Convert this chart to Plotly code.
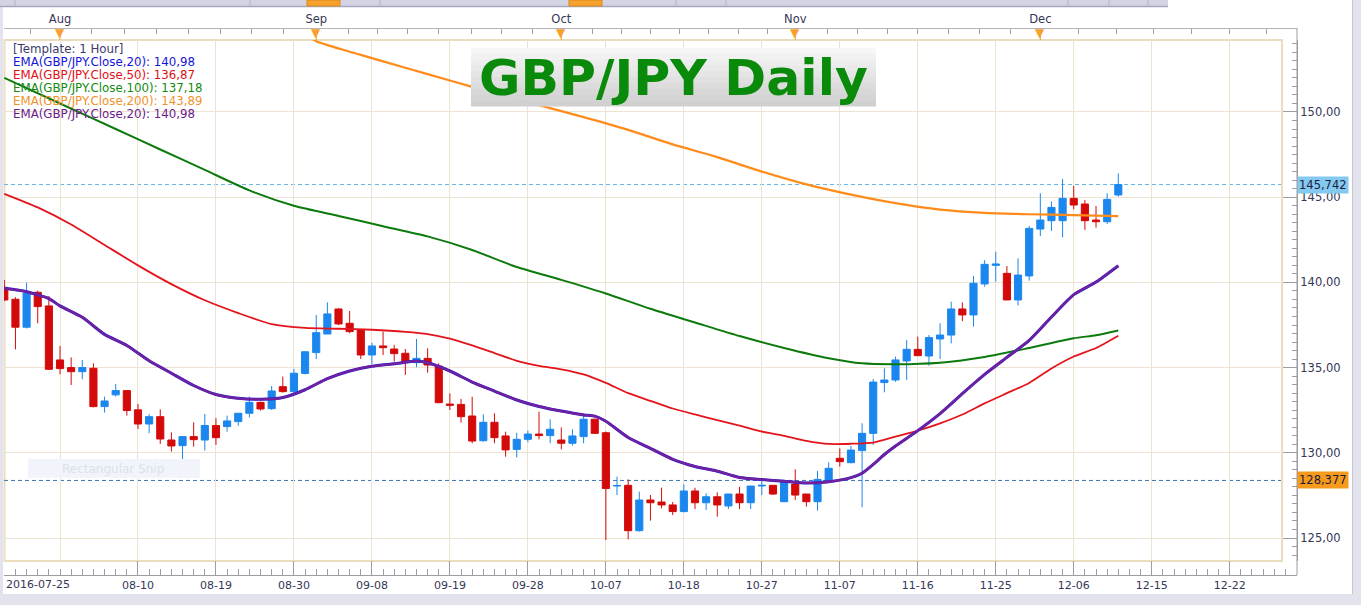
import pandas as pd
import plotly.graph_objects as go

# ---------------- data ----------------
dates = pd.bdate_range("2016-07-25", "2016-12-12")  # 101 trading days

opens = [139.71, 139.01, 137.37, 139.42, 138.62, 135.45, 135.00, 134.76, 134.96, 132.71,
         133.40, 133.65, 132.52, 131.69, 132.12, 130.75, 130.42, 130.95, 130.75, 131.60,
         131.54, 131.83, 132.32, 132.96, 132.59, 133.88, 133.59, 134.66, 135.88, 136.97,
         138.44, 137.60, 137.21, 135.74, 136.27, 136.09, 135.84, 135.29, 135.54, 135.09,
         132.86, 132.84, 132.16, 130.71, 131.79, 130.99, 130.20, 130.79, 131.10, 131.01,
         130.75, 130.56, 130.95, 131.97, 131.18, 128.05, 128.09, 125.43, 127.23, 127.11,
         126.94, 126.55, 127.76, 127.07, 127.42, 126.88, 127.58, 127.07, 128.05, 128.09,
         127.13, 128.17, 127.58, 127.13, 128.35, 129.68, 129.42, 130.13, 131.14, 134.12,
         134.27, 135.39, 136.07, 135.68, 136.68, 136.91, 138.44, 138.09, 139.91, 141.00,
         140.53, 138.97, 140.38, 143.13, 143.62, 143.62, 144.93, 144.60, 143.66, 143.56,
         145.13]
highs = [140.14, 139.13, 139.99, 139.52, 139.20, 136.27, 135.60, 135.45, 135.25, 133.30,
         134.04, 133.69, 132.87, 132.26, 132.55, 131.20, 130.95, 131.79, 132.28, 132.03,
         132.18, 132.32, 133.30, 133.00, 133.92, 134.47, 134.92, 135.95, 138.09, 138.83,
         138.48, 138.32, 137.21, 136.46, 137.11, 136.33, 136.09, 136.68, 136.13, 135.25,
         133.49, 133.16, 133.29, 132.26, 132.32, 131.24, 131.18, 131.30, 132.41, 131.96,
         131.49, 131.38, 132.32, 132.00, 131.25, 128.60, 128.44, 127.72, 127.52, 127.95,
         127.11, 128.15, 127.95, 127.62, 127.68, 127.58, 128.01, 128.05, 128.50, 128.09,
         128.40, 129.03, 127.58, 128.93, 129.44, 130.26, 130.40, 131.73, 134.33, 134.96,
         135.64, 136.62, 136.82, 136.91, 137.60, 138.87, 138.83, 140.38, 141.31, 141.80,
         140.96, 141.41, 143.31, 145.23, 144.74, 146.07, 145.66, 144.84, 144.48, 145.23,
         146.40]
lows = [138.90, 136.07, 137.30, 137.60, 134.85, 134.61, 133.98, 134.31, 132.67, 132.36,
        133.30, 132.18, 131.40, 131.15, 130.52, 130.07, 129.19, 130.36, 130.13, 130.46,
        131.24, 131.58, 132.08, 132.48, 132.51, 133.53, 133.53, 134.60, 135.50, 136.97,
        137.50, 137.01, 135.50, 135.21, 135.74, 135.35, 134.57, 135.02, 134.70, 132.94,
        132.51, 131.77, 130.56, 130.65, 130.56, 129.77, 129.73, 130.62, 130.79, 130.56,
        130.20, 130.42, 130.56, 131.10, 124.88, 127.52, 124.92, 125.37, 126.02, 126.74,
        126.35, 126.50, 126.70, 126.64, 126.25, 126.70, 126.70, 126.70, 127.52, 127.52,
        127.10, 127.23, 126.84, 126.60, 128.30, 129.19, 129.38, 126.80, 130.46, 133.55,
        134.17, 134.27, 135.70, 135.11, 135.50, 136.42, 137.73, 137.40, 139.75, 140.04,
        138.97, 138.64, 140.10, 142.72, 143.02, 142.64, 144.29, 143.08, 143.21, 143.43,
        145.03]
closes = [138.97, 137.37, 139.36, 138.58, 134.90, 134.94, 134.76, 135.00, 132.71, 133.04,
          133.65, 132.48, 131.69, 132.12, 130.81, 130.40, 130.95, 130.77, 131.60, 130.89,
          131.87, 132.32, 132.96, 132.57, 133.63, 133.59, 134.67, 135.93, 137.05, 138.15,
          137.56, 137.11, 135.74, 136.27, 136.17, 135.82, 135.31, 135.54, 135.15, 132.94,
          132.79, 132.12, 130.69, 131.79, 130.89, 130.17, 130.79, 131.10, 131.01, 131.38,
          130.56, 130.99, 131.97, 131.14, 127.91, 128.08, 125.43, 127.23, 127.07, 126.94,
          126.55, 127.76, 127.07, 127.42, 126.94, 127.58, 127.07, 128.05, 128.09, 127.58,
          128.35, 127.52, 127.13, 128.44, 129.09, 129.48, 130.16, 131.14, 134.15, 134.27,
          135.45, 136.07, 135.70, 136.76, 136.91, 138.44, 138.09, 139.95, 141.06, 141.08,
          138.97, 140.43, 143.17, 143.66, 144.40, 144.93, 144.54, 143.62, 143.56, 144.87,
          145.742]

ema20_dates = ["2016-07-25", "2016-07-27", "2016-07-29", "2016-08-01", "2016-08-03", "2016-08-05",
               "2016-08-09", "2016-08-11", "2016-08-15", "2016-08-17", "2016-08-19", "2016-08-23",
               "2016-08-25", "2016-08-29", "2016-08-31", "2016-09-02", "2016-09-06", "2016-09-08",
               "2016-09-12", "2016-09-14", "2016-09-15", "2016-09-19", "2016-09-21", "2016-09-23",
               "2016-09-27", "2016-09-29", "2016-10-03", "2016-10-05", "2016-10-06", "2016-10-07",
               "2016-10-11", "2016-10-13", "2016-10-17", "2016-10-19", "2016-10-21", "2016-10-25",
               "2016-10-27", "2016-10-31", "2016-11-02", "2016-11-04", "2016-11-08", "2016-11-09",
               "2016-11-10", "2016-11-11", "2016-11-14", "2016-11-16", "2016-11-18", "2016-11-22",
               "2016-11-24", "2016-11-28", "2016-11-30", "2016-12-02", "2016-12-06", "2016-12-08",
               "2016-12-12"]
ema20 = [139.65, 139.45, 139.05, 138.62, 137.95, 136.95, 136.30, 135.40, 134.67, 133.95,
         133.42, 133.20, 133.14, 133.24, 133.70, 134.35, 134.80, 135.08, 135.22, 135.38,
         135.28, 134.80, 134.15, 133.62, 133.10, 132.72, 132.45, 132.22, 132.15, 131.85,
         130.90, 130.26, 129.62, 129.20, 128.92, 128.55, 128.43, 128.33, 128.23, 128.30,
         128.54, 128.80, 129.32, 129.90, 130.40, 131.30, 132.30, 133.47, 134.60, 135.60,
         136.60, 137.97, 139.28, 140.02, 140.98]

ema50_dates = ["2016-07-25", "2016-07-28", "2016-08-02", "2016-08-05", "2016-08-10", "2016-08-15",
               "2016-08-18", "2016-08-23", "2016-08-26", "2016-08-31", "2016-09-05", "2016-09-08",
               "2016-09-13", "2016-09-15", "2016-09-19", "2016-09-21", "2016-09-23", "2016-09-27",
               "2016-09-29", "2016-10-03", "2016-10-05", "2016-10-07", "2016-10-11", "2016-10-13",
               "2016-10-17", "2016-10-19", "2016-10-21", "2016-10-25", "2016-10-27", "2016-10-31",
               "2016-11-02", "2016-11-04", "2016-11-08", "2016-11-10", "2016-11-14", "2016-11-16",
               "2016-11-18", "2016-11-22", "2016-11-24", "2016-11-28", "2016-11-30", "2016-12-02",
               "2016-12-06", "2016-12-08", "2016-12-12"]
ema50 = [145.20, 144.40, 143.40, 142.20, 141.00, 139.90, 138.95, 138.20, 137.55, 137.33,
         137.28, 137.22, 137.10, 136.97, 136.70, 136.30, 135.85, 135.40, 135.10, 134.90,
         134.60, 134.10, 133.50, 133.05, 132.60, 132.25, 131.92, 131.60, 131.25, 131.00,
         130.70, 130.52, 130.53, 130.60, 130.95, 131.30, 131.73, 132.25, 132.90, 133.50,
         134.10, 134.95, 135.65, 136.15, 136.87]

ema100_dates = ["2016-07-25", "2016-08-01", "2016-08-08", "2016-08-12", "2016-08-18", "2016-08-24",
                "2016-08-30", "2016-09-05", "2016-09-09", "2016-09-15", "2016-09-21", "2016-09-27",
                "2016-10-03", "2016-10-07", "2016-10-13", "2016-10-19", "2016-10-25", "2016-10-31",
                "2016-11-04", "2016-11-09", "2016-11-14", "2016-11-18", "2016-11-24", "2016-11-30",
                "2016-12-06", "2016-12-08", "2016-12-12"]
ema100 = [152.00, 150.50, 149.00, 147.80, 146.60, 145.40, 144.50, 143.90, 143.30, 142.70,
          141.90, 140.90, 140.15, 139.35, 138.45, 137.65, 136.85, 136.15, 135.55, 135.25,
          135.20, 135.29, 135.62, 136.15, 136.72, 136.90, 137.18]

ema200_dates = ["2016-08-31", "2016-09-01", "2016-09-07", "2016-09-13", "2016-09-19", "2016-09-23",
                "2016-09-29", "2016-10-05", "2016-10-11", "2016-10-17", "2016-10-21", "2016-10-27",
                "2016-11-02", "2016-11-08", "2016-11-14", "2016-11-18", "2016-11-24", "2016-11-30",
                "2016-12-06", "2016-12-12"]
ema200 = [154.60, 154.15, 153.35, 152.60, 151.85, 151.10, 150.40, 149.70, 148.95, 148.10,
          147.35, 146.50, 145.75, 145.15, 144.65, 144.27, 144.08, 144.00, 143.95, 143.89]

last_price = 145.742
level_price = 128.377

legend_text = ["[Template: 1 Hour]",
               "EMA(GBP/JPY.Close,20): 140,98",
               "EMA(GBP/JPY.Close,50): 136,87",
               "EMA(GBP/JPY.Close,100): 137,18",
               "EMA(GBP/JPY.Close,200): 143,89",
               "EMA(GBP/JPY.Close,20): 140,98"]
legend_colors = ["#3c3c6a", "#1414d8", "#e01018", "#128a12", "#f0922a", "#6a1a8a"]

tick_dates = ["2016-08-01", "2016-08-10", "2016-08-19", "2016-08-30", "2016-09-08", "2016-09-19",
              "2016-09-28", "2016-10-07", "2016-10-18", "2016-10-27", "2016-11-07", "2016-11-16",
              "2016-11-25", "2016-12-06", "2016-12-15", "2016-12-22"]
tick_text = ["", "08-10", "08-19", "08-30", "09-08", "09-19", "09-28", "10-07", "10-18",
             "10-27", "11-07", "11-16", "11-25", "12-06", "12-15", "12-22"]
first_label = "2016-07-25"
month_dates = ["2016-08-01", "2016-09-01", "2016-10-03", "2016-11-01", "2016-12-01"]
month_text = ["Aug", "Sep", "Oct", "Nov", "Dec"]
y_ticks = [125, 130, 135, 140, 145, 150]
title_text = "GBP/JPY Daily"

# ---------------- geometry helpers ----------------
W, H = 1361, 605
ML, MR, MT, MB = 4, 64, 28, 30
PW, PH = W - ML - MR, H - MT - MB


def fx(px):
    return (px - ML) / PW


def fy(py):
    return (H - MB - py) / PH


def noon(d):
    return pd.Timestamp(d) + pd.Timedelta(hours=12)


xs = dates + pd.Timedelta(hours=12)
slots = list(xs) + [xs[-1] + pd.Timedelta(days=k) for k in range(1, 17)]


def at(f):
    i = int(round(f))
    return slots[i] + pd.Timedelta(days=f - i)


top_minor_idx = [2.37, 7.85, 10.8, 13.7, 16.5, 19.4, 22.2, 25.1, 30.9, 33.5, 36.2, 39.0, 41.9,
                 44.6, 47.4, 52.8, 55.4, 58.0, 60.6, 63.2, 65.9, 68.5, 73.9, 76.6, 79.3, 82.0,
                 84.8, 87.5, 90.3, 96.4, 99.8, 103.2, 106.6, 110.0, 113.3]

weekend = [d.strftime("%Y-%m-%d") for d in pd.date_range("2016-07-23", "2016-12-11") if d.weekday() >= 5]
rbreaks = [dict(values=weekend, dvalue=86400000)]
x_range = ["2016-07-25 11:21", "2016-12-28 12:58"]
y_range = [123.65, 154.225]

BLUE_C = "#1b87ee"
RED_C = "#d40a0a"
GRID = "#eee3d1"
TXT = "#363658"
AXC = "#9c9ca4"
TRI = "#f6a12e"

fig = go.Figure()

fig.add_trace(go.Candlestick(
    x=xs, open=opens, high=highs, low=lows, close=closes,
    increasing=dict(line=dict(color=BLUE_C, width=1), fillcolor=BLUE_C),
    decreasing=dict(line=dict(color=RED_C, width=1), fillcolor=RED_C),
    whiskerwidth=0, showlegend=False, hoverinfo="skip"))


def ema_trace(d, v, color, width):
    return go.Scatter(x=[noon(s) for s in d], y=v, mode="lines",
                      line=dict(color=color, width=width, shape="spline", smoothing=0.6),
                      showlegend=False, hoverinfo="skip")


fig.add_trace(ema_trace(ema200_dates, ema200, "#ff8c1a", 2.2))
fig.add_trace(ema_trace(ema100_dates, ema100, "#0c7a0c", 2.0))
fig.add_trace(ema_trace(ema50_dates, ema50, "#e3141c", 1.8))
fig.add_trace(ema_trace(ema20_dates, ema20, "#2020d8", 3.0))
fig.add_trace(ema_trace(ema20_dates, ema20, "#74209c", 2.3))

# carrier trace for the top (month) axis
fig.add_trace(go.Scatter(
    x=[noon(d) for d in month_dates], y=[140] * len(month_dates), xaxis="x2", yaxis="y",
    mode="markers", marker=dict(size=1, opacity=0), showlegend=False, hoverinfo="skip"))

shapes = []
# white chart panel
shapes.append(dict(type="rect", xref="paper", yref="paper", x0=fx(3), x1=fx(1352), y0=fy(594), y1=fy(0),
                   fillcolor="white", line=dict(width=0), layer="below"))
# right border line
shapes.append(dict(type="line", xref="paper", yref="paper", x0=fx(1352.5), x1=fx(1352.5), y0=fy(594), y1=fy(0),
                   line=dict(color="#c6c6d6", width=1), layer="below"))
# toolbar
shapes.append(dict(type="rect", xref="paper", yref="paper", x0=fx(0), x1=fx(1168), y0=fy(6.5), y1=fy(0),
                   fillcolor="#d3d3e3", line=dict(width=0), layer="above"))
shapes.append(dict(type="line", xref="paper", yref="paper", x0=fx(0), x1=fx(1168), y0=fy(6.5), y1=fy(6.5),
                   line=dict(color="#a6a6c4", width=1.5), layer="above"))
for a, b in [(307, 340), (569, 602)]:
    shapes.append(dict(type="rect", xref="paper", yref="paper", x0=fx(a), x1=fx(b), y0=fy(6), y1=fy(0),
                       fillcolor="#f7a22c", line=dict(color="#d98a1a", width=1), layer="above"))
for xv in [15, 250, 380, 676, 726, 1068, 1109, 1148]:
    shapes.append(dict(type="line", xref="paper", yref="paper", x0=fx(xv), x1=fx(xv), y0=fy(6), y1=fy(0),
                       line=dict(color="#b4b4cc", width=1), layer="above"))
# price panel frame
shapes.append(dict(type="rect", xref="paper", yref="paper", x0=fx(4.5), x1=fx(1282), y0=fy(561), y1=fy(40),
                   line=dict(color="#e9dcbf", width=2), layer="below"))
# right axis line extension
shapes.append(dict(type="line", xref="paper", yref="paper", x0=1, x1=1, y0=0, y1=1,
                   line=dict(color=AXC, width=1), layer="above"))
# month marker stems
for d in month_dates:
    shapes.append(dict(type="line", xref="x", yref="paper", x0=noon(d), x1=noon(d), y0=fy(40), y1=fy(34),
                       line=dict(color=TRI, width=1), layer="above"))
# horizontal price lines
shapes.append(dict(type="line", xref="paper", yref="y", x0=0, x1=fx(1281), y0=last_price, y1=last_price,
                   line=dict(color="#62b4e4", width=1, dash="4px,3px"), layer="between"))
shapes.append(dict(type="line", xref="paper", yref="y", x0=0, x1=fx(1281), y0=level_price, y1=level_price,
                   line=dict(color="#3a74b4", width=1, dash="4px,3px"), layer="between"))
# rectangular snip artefact
shapes.append(dict(type="rect", xref="paper", yref="paper", x0=fx(28), x1=fx(200), y0=fy(478), y1=fy(459),
                   fillcolor="#f1f4fa", line=dict(width=0), layer="above"))
# title box gradient
top_c, bot_c = (246, 246, 246), (208, 208, 208)
n = 10
for k in range(n):
    t = k / (n - 1)
    c = tuple(int(top_c[j] + (bot_c[j] - top_c[j]) * t) for j in range(3))
    y0 = 48 + k * (58 / n)
    shapes.append(dict(type="rect", xref="paper", yref="paper", x0=fx(471), x1=fx(876),
                       y0=fy(y0 + 58 / n + 0.5), y1=fy(y0), fillcolor="rgb(%d,%d,%d)" % c,
                       line=dict(width=0), layer="above"))

annotations = []
for k, (t, c) in enumerate(zip(legend_text, legend_colors)):
    annotations.append(dict(xref="paper", yref="paper", x=fx(11), y=fy(49 + 13 * k), xanchor="left",
                            yanchor="middle", text=t, showarrow=False,
                            font=dict(family="DejaVu Sans", size=11.8, color=c)))
annotations.append(dict(xref="paper", yref="paper", x=fx(673), y=fy(78), xanchor="center", yanchor="middle",
                        text="<b>%s</b>" % title_text, showarrow=False,
                        font=dict(family="DejaVu Sans", size=50.5, color="#0a8a0a")))
annotations.append(dict(xref="paper", yref="paper", x=fx(4), y=fy(584), xanchor="left", yanchor="middle",
                        text=first_label, showarrow=False, font=dict(family="DejaVu Sans", size=11, color=TXT)))
annotations.append(dict(xref="paper", yref="paper", x=fx(60), y=fy(468.5), xanchor="left", yanchor="middle",
                        text="Rectangular Snip", showarrow=False,
                        font=dict(family="DejaVu Sans", size=12, color="#dce1ea")))
for val, bg in [(last_price, "#84c9f0"), (level_price, "#f59a1c")]:
    annotations.append(dict(xref="paper", yref="y", x=fx(1297), y=val, xanchor="left", yanchor="middle",
                            text=("%.3f" % val).replace(".", ","), showarrow=False, bgcolor=bg,
                            borderpad=1, font=dict(family="DejaVu Sans", size=11.5, color="#1c1c3c")))
# month triangles
for d in month_dates:
    annotations.append(dict(xref="x", yref="paper", x=noon(d), y=fy(32.5), xanchor="center", yanchor="middle",
                            text="▼", showarrow=False,
                            font=dict(family="DejaVu Sans", size=12, color=TRI)))

fig.update_layout(
    width=W, height=H, margin=dict(l=ML, r=MR, t=MT, b=MB, autoexpand=False),
    paper_bgcolor="#e3e3ee", plot_bgcolor="white", separators=", ",
    showlegend=False, boxgap=0.2, boxgroupgap=0.2,
    font=dict(family="DejaVu Sans", color=TXT),
    xaxis=dict(type="date", range=x_range, rangebreaks=rbreaks, anchor="free", position=0, domain=[0, 1],
               automargin=False,
               tickmode="array", tickvals=[noon(d) for d in tick_dates], ticktext=tick_text,
               ticks="inside", ticklen=14, tickcolor=AXC, showline=True, linecolor=AXC,
               showgrid=True, gridcolor=GRID, gridwidth=1, zeroline=False,
               tickfont=dict(family="DejaVu Sans", size=11, color=TXT),
               minor=dict(tickvals=slots, ticks="inside", ticklen=6, tickcolor=AXC, showgrid=False),
               rangeslider=dict(visible=False), fixedrange=True),
    xaxis2=dict(type="date", range=x_range, rangebreaks=rbreaks, overlaying="x", side="top",
                anchor="free", position=1, automargin=False,
                tickmode="array", tickvals=[noon(d) for d in month_dates],
                ticktext=month_text, ticks="inside", ticklen=5, tickcolor=AXC, showline=True,
                linecolor="#b4b4b8", showgrid=False, zeroline=False,
                tickfont=dict(family="DejaVu Sans", size=11.5, color=TXT),
                minor=dict(tickvals=[at(f) for f in top_minor_idx], ticks="inside", ticklen=5,
                           tickcolor=AXC, showgrid=False)),
    yaxis=dict(domain=[fy(561), fy(40)], range=y_range, side="right", anchor="x", automargin=False,
               tickmode="array", tickvals=y_ticks, tickformat=".2f", ticks="inside", ticklen=14,
               tickcolor=AXC, showline=True, linecolor=AXC, showgrid=True, gridcolor=GRID,
               zeroline=False, tickfont=dict(family="DejaVu Sans", size=11.5, color=TXT),
               minor=dict(dtick=0.5, ticks="inside", ticklen=5, tickcolor=AXC, showgrid=False)),
    shapes=shapes, annotations=annotations,
)

fig.write_html("out.html", config={"displayModeBar": False},
               post_script="document.body.style.margin='0';document.body.style.overflow='hidden';")
